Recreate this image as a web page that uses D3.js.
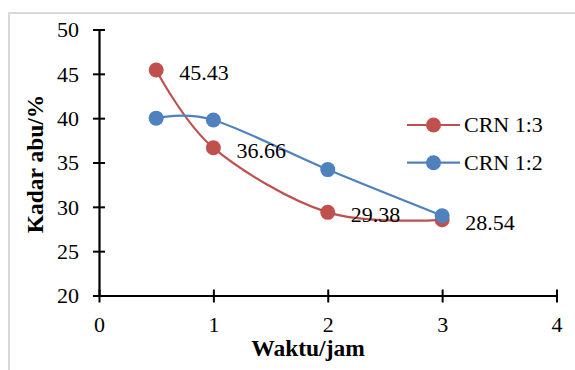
<!DOCTYPE html>
<html>
<head>
<meta charset="utf-8">
<script src="https://cdn.jsdelivr.net/npm/d3@7/dist/d3.min.js"></script>
<style>
  html, body { margin: 0; padding: 0; background: #fff; }
  svg { display: block; }
</style>
</head>
<body>
<svg id="chart" width="575" height="370"></svg>
<script>
// Ash content (Kadar abu) over time for two CRN ratios
const hours = [0.5, 1, 2, 3];
const crn13 = [45.43, 36.66, 29.38, 28.54];
const crn12 = [40.0, 39.8, 34.2, 29.0];
const seriesNames = ["CRN 1:3", "CRN 1:2"];
const seriesColors = ["#C0504D", "#4F81BD"];
const xTicks = [0, 1, 2, 3, 4];
const yTicks = [20, 25, 30, 35, 40, 45, 50];

// text is set at 24px and scaled down to keep the serif face
const FONT = "'Liberation Serif'";
const BASE = 24;
const K = 22 / BASE;
const svg = d3.select("#chart");

function label(parent, px, py, str, opts = {}) {
  const g = parent.append("g")
    .attr("transform", `translate(${px},${py})${opts.rotate ? " rotate(" + opts.rotate + ")" : ""} scale(${opts.k || K})`);
  return g.append("text")
    .attr("text-anchor", opts.anchor || "start")
    .style("font-family", FONT).style("font-size", BASE + "px")
    .style("font-weight", opts.bold ? "bold" : "normal")
    .attr("fill", "#000")
    .text(str);
}

// outer chart frame
svg.append("rect")
  .attr("x", 9).attr("y", 13).attr("width", 600).attr("height", 400)
  .attr("fill", "none").attr("stroke", "#d9d9d9").attr("stroke-width", 2);

const x = d3.scaleLinear().domain([0, 4]).range([99, 556.5]);
const y = d3.scaleLinear().domain([20, 50]).range([295.5, 29.5]);

// y axis
const yAxis = svg.append("g")
  .attr("transform", `translate(${x(0)},0)`)
  .call(d3.axisLeft(y).tickValues(yTicks).tickSize(0).tickPadding(20).tickFormat(d3.format("d")));
yAxis.select(".domain").attr("stroke", "#000").attr("stroke-width", 2.2);
yAxis.selectAll(".tick line").attr("x1", -6).attr("x2", 6).attr("stroke", "#000").attr("stroke-width", 2);
yAxis.selectAll(".tick text")
  .attr("transform", `scale(${K})`).attr("x", -20 / K).attr("dy", "0.34em")
  .style("font-family", FONT).style("font-size", BASE + "px");

// x axis
const xAxis = svg.append("g")
  .attr("transform", `translate(0,${y(20)})`)
  .call(d3.axisBottom(x).tickValues(xTicks).tickSize(0).tickPadding(36).tickFormat(d3.format("d")));
xAxis.select(".domain").attr("stroke", "#000").attr("stroke-width", 2.2);
xAxis.selectAll(".tick line").attr("y1", -6).attr("y2", 7).attr("stroke", "#000").attr("stroke-width", 2);
xAxis.selectAll(".tick text")
  .attr("transform", `scale(${K})`).attr("y", 36.5 / K).attr("dy", "0")
  .style("font-family", FONT).style("font-size", BASE + "px");

// axis titles
label(svg, 308, 356, "Waktu/jam", { anchor: "middle", bold: true, k: 23.5 / BASE });
label(svg, 43, 164, "Kadar abu/%", { anchor: "middle", bold: true, k: 23.5 / BASE, rotate: -90 });

// smoothed series
const line = d3.line()
  .x(d => x(d[0])).y(d => y(d[1]))
  .curve(d3.curveCatmullRom.alpha(0));

const series = [crn13, crn12].map((vals, i) => ({
  name: seriesNames[i],
  color: seriesColors[i],
  points: hours.map((h, j) => [h, vals[j]])
}));

series.forEach(s => {
  svg.append("path")
    .datum(s.points)
    .attr("d", line)
    .attr("fill", "none").attr("stroke", s.color).attr("stroke-width", 2.2);
  svg.append("g").selectAll("circle")
    .data(s.points).join("circle")
    .attr("cx", d => x(d[0])).attr("cy", d => y(d[1])).attr("r", 7.5)
    .attr("fill", s.color);
});

// value labels for CRN 1:3
const valueLabels = svg.append("g");
series[0].points.forEach(d => {
  label(valueLabels, x(d[0]) + 23, y(d[1]) + 10, d[1].toFixed(2));
});

// legend
const legend = svg.append("g");
series.forEach((s, i) => {
  const ly = 125 + i * 37.7;
  legend.append("line")
    .attr("x1", 407).attr("x2", 460).attr("y1", ly).attr("y2", ly)
    .attr("stroke", s.color).attr("stroke-width", 2.2);
  legend.append("circle").attr("cx", 433.5).attr("cy", ly).attr("r", 7.5).attr("fill", s.color);
  label(legend, 464, ly + 7.4, s.name);
});
</script>
</body>
</html>
